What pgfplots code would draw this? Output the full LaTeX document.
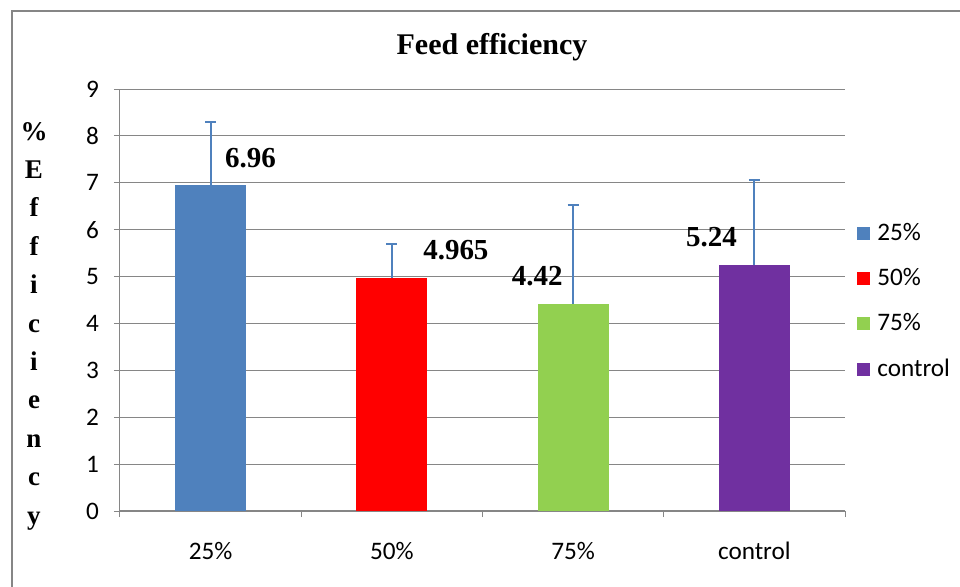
\documentclass[border=0pt]{standalone}
\usepackage{pgfplots}
\pgfplotsset{compat=1.18}
\usepackage{fontspec}
\setmainfont{Liberation Serif}
\setsansfont{Carlito}

\definecolor{c25}{HTML}{4F81BD}
\definecolor{c50}{HTML}{FF0000}
\definecolor{c75}{HTML}{92D050}
\definecolor{cctl}{HTML}{7030A0}
\definecolor{gridgray}{HTML}{868686}

\pgfplotsset{
  mylegend/.style={legend image code/.code={\fill[##1] (0pt,-3.25pt) rectangle (6.5pt,3.25pt);}},
  mybar/.style={ybar, bar width=35.5pt, bar shift=0pt, draw=none, fill=#1, mylegend,
    error bars/y dir=plus, error bars/y explicit,
    error bars/error bar style={c25, line width=1pt},
    error bars/error mark options={rotate=90, mark size=2.75pt, line width=1pt, c25}},
}

\begin{document}
\begin{tikzpicture}
\useasboundingbox (0,0) rectangle (480pt,293pt);
\draw[gridgray, line width=1pt] (6pt,-5pt) -- (6pt,287.5pt) -- (490pt,287.5pt);
\node[font=\bfseries\fontsize{15}{18}\selectfont] at (246pt,269.5pt) {Feed efficiency};
\node[font=\bfseries\fontsize{13.5}{19.2}\selectfont, align=center] at (17pt,130pt) {\%\\E\\f\\f\\i\\c\\i\\e\\n\\c\\y};
\begin{axis}[
  at={(60pt,37.5pt)}, anchor=south west, scale only axis,
  width=362.5pt, height=211pt,
  xmin=-0.5, xmax=3.5, ymin=0, ymax=9,
  xtick={-0.5,0.5,1.5,2.5,3.5}, xticklabels={,,,,},
  extra x ticks={0,1,2,3},
  extra x tick labels={25\%,50\%,75\%,control},
  extra x tick style={major tick length=0pt, xticklabel style={yshift=-12pt}},
  ytick={0,...,9},
  axis x line*=bottom, axis y line*=left,
  x axis line style={gridgray, line width=1pt},
  y axis line style={gridgray, line width=0.5pt},
  ymajorgrids, major grid style={gridgray, line width=0.5pt},
  tick align=outside, major tick length=3pt,
  tick style={gridgray, line width=0.5pt},
  tick label style={font=\sffamily\fontsize{12.6}{14}\selectfont, black},
  yticklabel style={xshift=-4pt},
  /pgf/number format/assume math mode=true,
  legend style={at={(1.0165,0.497)}, anchor=west, draw=none, fill=none,
    font=\sffamily\fontsize{12.6}{14}\selectfont, row sep=9.5pt, inner sep=0pt,
    nodes={inner ysep=1.5pt, inner xsep=3.5pt}},
  legend cell align=left,
  nodes near coords={\pgfmathprintnumber[precision=3]{\pgfplotspointmeta}},
  clip=false,
]
\addplot[mybar=c25, nodes near coords style={font=\bfseries\fontsize{14.5}{16}\selectfont, anchor=center, xshift=20pt, yshift=13.5pt}]
  coordinates {(0,6.96) +- (0,1.33)};
\addplot[mybar=c50, nodes near coords style={font=\bfseries\fontsize{14.5}{16}\selectfont, anchor=center, xshift=32pt, yshift=14pt}]
  coordinates {(1,4.965) +- (0,0.735)};
\addplot[mybar=c75, nodes near coords style={font=\bfseries\fontsize{14.5}{16}\selectfont, anchor=center, xshift=-18pt, yshift=14pt}]
  coordinates {(2,4.42) +- (0,2.10)};
\addplot[mybar=cctl, nodes near coords style={font=\bfseries\fontsize{14.5}{16}\selectfont, anchor=center, xshift=-21.5pt, yshift=14pt}]
  coordinates {(3,5.24) +- (0,1.82)};
\legend{25\%,50\%,75\%,control}
\end{axis}
\end{tikzpicture}
\end{document}
